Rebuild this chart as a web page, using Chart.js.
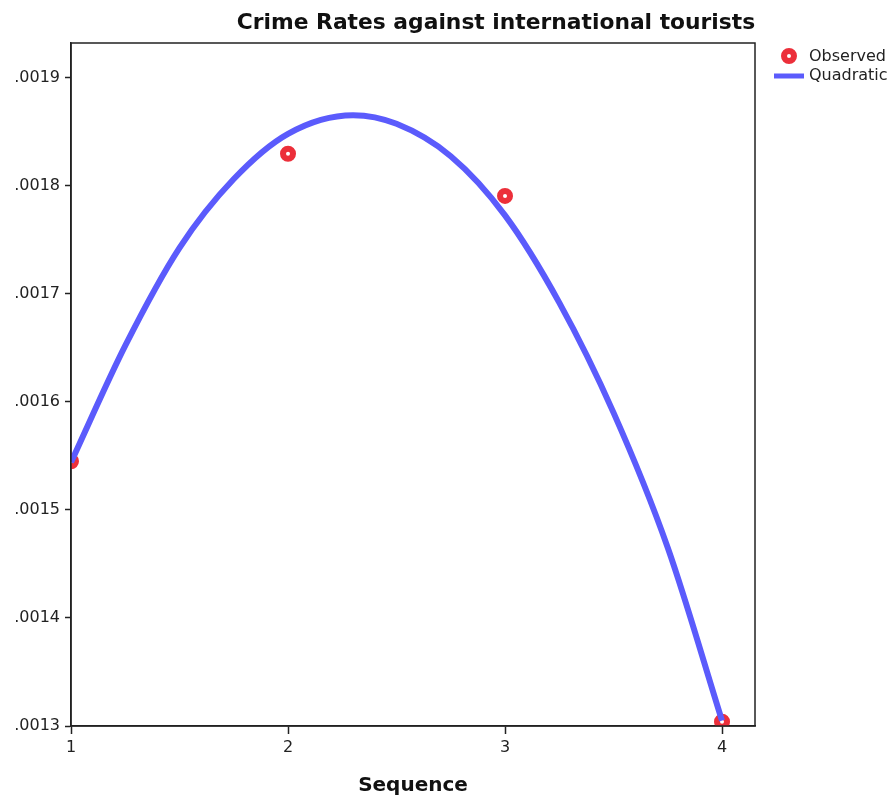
<!DOCTYPE html>
<html lang="en">
  <head>
    <meta charset="UTF-8" />
    <title>Crime Rates against international tourists</title>
    <script src="https://cdn.jsdelivr.net/npm/chart.js"></script>
    <style>
      body { margin: 0; background: #fff; }
      #wrap { width: 891px; height: 798px; }
    </style>
  </head>
  <body>
    <div id="wrap"><canvas id="myChart" width="891" height="798"></canvas></div>

    <script>
      const obsX = [1, 2, 3, 4];
      const obsY = [0.0015450, 0.0018295, 0.0017905, 0.0013040];

      // quadratic fit line (peak near 2.3)
      const fitX = [1, 1.25, 1.5, 1.75, 2, 2.3, 2.5, 2.75, 3, 3.25, 3.5, 3.75, 4];
      const fitY = [0.0015440, 0.0016520, 0.0017425, 0.0018062, 0.0018480, 0.0018652,
                    0.0018572, 0.0018272, 0.0017725, 0.0016918, 0.0015900, 0.0014650, 0.0013050];

      const xTicks = [1, 2, 3, 4];
      const yTicks = [0.0013, 0.0014, 0.0015, 0.0016, 0.0017, 0.0018, 0.0019];

      const red = '#ec2f3a';
      const blue = '#5b5bfc';

      const frame = {
        id: 'frame',
        afterDraw(chart) {
          const { ctx, chartArea: a } = chart;
          ctx.save();
          ctx.strokeStyle = '#222';
          ctx.lineWidth = 1.5;
          ctx.strokeRect(a.left, a.top, a.right - a.left, a.bottom - a.top);

          // title
          ctx.fillStyle = '#111';
          ctx.font = 'bold 21.8px "DejaVu Sans"';
          ctx.textAlign = 'center';
          ctx.textBaseline = 'middle';
          ctx.fillText('Crime Rates against international tourists', 496, 23);

          // legend
          ctx.font = '16px "DejaVu Sans"';
          ctx.textAlign = 'left';
          ctx.beginPath();
          ctx.arc(789, 56, 5, 0, Math.PI * 2);
          ctx.fillStyle = '#fff';
          ctx.fill();
          ctx.lineWidth = 6;
          ctx.strokeStyle = red;
          ctx.stroke();
          ctx.fillStyle = '#222';
          ctx.fillText('Observed', 809, 57);
          ctx.beginPath();
          ctx.moveTo(774, 76);
          ctx.lineTo(804, 76);
          ctx.lineWidth = 5;
          ctx.strokeStyle = blue;
          ctx.stroke();
          ctx.fillText('Quadratic', 809, 76);
          ctx.restore();
        }
      };

      const ctx = document.getElementById('myChart').getContext('2d');

      const fitLine = {
        label: 'Quadratic',
        data: fitX.map((x, i) => ({ x: x, y: fitY[i] })),
        borderColor: blue,
        borderWidth: 6,
        pointRadius: 0,
        cubicInterpolationMode: 'monotone',
        fill: false,
        showLine: true
      };

      const observed = {
        label: 'Observed',
        data: obsX.map((x, i) => ({ x: x, y: obsY[i] })),
        backgroundColor: '#fff',
        borderColor: red,
        borderWidth: 6,
        pointRadius: 5,
        showLine: false,
        clip: 0
      };

      new Chart(ctx, {
        type: 'scatter',
        data: { datasets: [fitLine, observed] },
        options: {
          responsive: false,
          animation: false,
          layout: { padding: { left: 0, right: 136, top: 43, bottom: 0 } },
          plugins: {
            legend: { display: false },
            tooltip: { enabled: false }
          },
          scales: {
            x: {
              type: 'linear',
              min: 1,
              max: 4.152,
              afterBuildTicks: s => { s.ticks = xTicks.map(v => ({ value: v })); },
              afterFit: s => { s.height = 72; },
              grid: { drawOnChartArea: false, drawTicks: true, tickLength: 8, color: '#222', tickWidth: 1.5 },
              border: { display: true, color: '#222', width: 1.5 },
              ticks: { color: '#222', font: { family: 'DejaVu Sans', size: 16 }, padding: 4, maxRotation: 0 },
              title: {
                display: true,
                text: 'Sequence',
                color: '#111',
                font: { family: 'DejaVu Sans', size: 20, weight: 'bold' },
                padding: { top: 0, bottom: 0 }
              }
            },
            y: {
              min: 0.0013,
              max: 0.001932,
              afterBuildTicks: s => { s.ticks = yTicks.map(v => ({ value: v })); },
              afterFit: s => { s.width = 71; },
              grid: { drawOnChartArea: false, drawTicks: true, tickLength: 6, color: '#222', tickWidth: 1.5 },
              border: { display: true, color: '#222', width: 1.5 },
              ticks: {
                color: '#222',
                font: { family: 'DejaVu Sans', size: 16 },
                padding: 5,
                callback: v => v.toFixed(4).replace(/^0/, '')
              }
            }
          }
        },
        plugins: [frame]
      });
    </script>
  </body>
</html>
